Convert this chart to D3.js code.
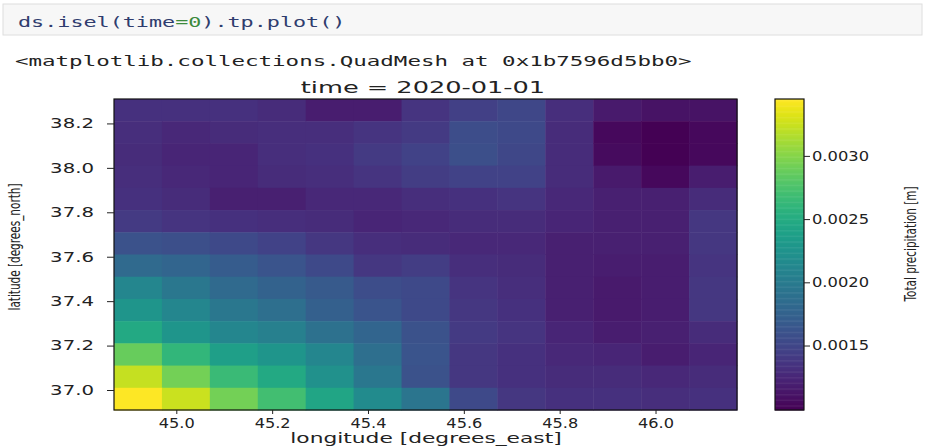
<!DOCTYPE html>
<html>
<head>
<meta charset="utf-8">
<script src="https://d3js.org/d3.v7.min.js"></script>
<style>
body{margin:0;background:#fff;}
svg{display:block;}
text{font-family:"DejaVu Sans",sans-serif;fill:#222;}
.mono{font-family:"DejaVu Sans Mono",monospace;}
</style>
</head>
<body>
<script>
// grid cell centres (degrees)
var lon = [44.92, 45.02, 45.12, 45.22, 45.32, 45.42, 45.52, 45.62, 45.72, 45.82, 45.92, 46.02, 46.12];
var lat = [38.26, 38.16, 38.06, 37.96, 37.86, 37.76, 37.66, 37.56, 37.46, 37.36, 37.26, 37.16, 37.06, 36.96];

// total precipitation [m], one row per latitude (north to south)
var tp = [
  [0.00133,0.00133,0.00133,0.00129,0.00119,0.00119,0.00136,0.00146,0.00151,0.00131,0.00116,0.00111,0.00111],
  [0.00131,0.00126,0.00129,0.00131,0.00131,0.00136,0.00141,0.00156,0.00153,0.00129,0.00104,0.00099,0.00104],
  [0.00129,0.00124,0.00124,0.00131,0.00133,0.00141,0.00148,0.00158,0.00151,0.00129,0.00106,0.00099,0.00104],
  [0.00131,0.00126,0.00124,0.00129,0.00131,0.00136,0.00143,0.00148,0.00148,0.00129,0.00116,0.00104,0.00119],
  [0.00133,0.00129,0.00121,0.00121,0.00126,0.00126,0.00131,0.00133,0.00136,0.00126,0.00121,0.00121,0.00129],
  [0.00141,0.00136,0.00133,0.00131,0.00129,0.00124,0.00126,0.00129,0.00129,0.00124,0.00121,0.00121,0.00138],
  [0.00161,0.00158,0.00153,0.00148,0.00138,0.00131,0.00129,0.00126,0.00126,0.00121,0.00121,0.00121,0.00138],
  [0.00183,0.00178,0.00170,0.00163,0.00153,0.00138,0.00143,0.00131,0.00129,0.00121,0.00119,0.00119,0.00136],
  [0.00212,0.00197,0.00183,0.00175,0.00168,0.00156,0.00153,0.00136,0.00131,0.00121,0.00116,0.00119,0.00138],
  [0.00227,0.00212,0.00197,0.00188,0.00173,0.00163,0.00153,0.00138,0.00133,0.00121,0.00116,0.00119,0.00138],
  [0.00247,0.00227,0.00212,0.00205,0.00190,0.00178,0.00161,0.00141,0.00136,0.00124,0.00119,0.00121,0.00129],
  [0.00288,0.00261,0.00237,0.00227,0.00212,0.00188,0.00163,0.00138,0.00133,0.00126,0.00124,0.00119,0.00124],
  [0.00323,0.00293,0.00266,0.00247,0.00222,0.00197,0.00161,0.00138,0.00133,0.00129,0.00129,0.00126,0.00129],
  [0.00345,0.00325,0.00293,0.00271,0.00244,0.00217,0.00195,0.00153,0.00138,0.00133,0.00133,0.00131,0.00133]
];

var xTicks = [45.0, 45.2, 45.4, 45.6, 45.8, 46.0];
var yTicks = [37.0, 37.2, 37.4, 37.6, 37.8, 38.0, 38.2];
var cbTicks = [0.0015, 0.0020, 0.0025, 0.0030];

var width = 925, height = 446;
var svg = d3.select("body").append("svg").attr("width", width).attr("height", height);

// the screenshot is stretched sideways, so text gets widened too
function stretch(sel, k) {
  sel.each(function() {
    var w = this.getComputedTextLength();
    d3.select(this).attr("textLength", w * k).attr("lengthAdjust", "spacingAndGlyphs");
  });
}

// notebook cell
svg.append("rect").attr("x", 3).attr("y", 4).attr("width", 919).attr("height", 31)
  .attr("fill", "#f7f7f7").attr("stroke", "#dedede");
var code = svg.append("text").attr("class", "mono").attr("x", 18).attr("y", 27).style("font-size", "14.5px");
[["ds.isel(time", "#2f3c6e"], ["=", "#3c8a3c"], ["0", "#3c8a3c"], [").tp.plot()", "#2f3c6e"]].forEach(function(p) {
  code.append("tspan").text(p[0]).style("fill", p[1]);
});
stretch(code, 1.5);

var out = svg.append("text").attr("class", "mono").attr("x", 15).attr("y", 66).style("font-size", "14.5px")
  .text("<matplotlib.collections.QuadMesh at 0x1b7596d5bb0>");
stretch(out, 1.55);

// scales
var x = d3.scaleLinear().domain([44.87, 46.17]).range([114, 737]);
var y = d3.scaleLinear().domain([36.91, 38.31]).range([410, 99]);
var vmin = d3.min(tp, function(r) { return d3.min(r); });
var vmax = d3.max(tp, function(r) { return d3.max(r); });
var color = d3.scaleSequential(d3.interpolateViridis).domain([vmin, vmax]);

// mesh
var cells = [];
lat.forEach(function(la, j) {
  lon.forEach(function(lo, i) { cells.push({lon: lo, lat: la, v: tp[j][i]}); });
});
svg.append("g").selectAll("rect")
  .data(cells)
  .enter()
  .append("rect")
  .attr("x", function(d) { return x(d.lon - 0.05); })
  .attr("y", function(d) { return y(d.lat + 0.05); })
  .attr("width", function(d) { return x(d.lon + 0.05) - x(d.lon - 0.05) + 0.5; })
  .attr("height", function(d) { return y(d.lat - 0.05) - y(d.lat + 0.05) + 0.5; })
  .attr("fill", function(d) { return color(d.v); });

svg.append("rect").attr("x", 114).attr("y", 99).attr("width", 623).attr("height", 311)
  .attr("fill", "none").attr("stroke", "#111").attr("stroke-width", 1.2);

// axes
var gx = svg.append("g").attr("transform", "translate(0,410)")
  .call(d3.axisBottom(x).tickValues(xTicks).tickFormat(d3.format(".1f")).tickSize(4).tickPadding(4));
var gy = svg.append("g").attr("transform", "translate(114,0)")
  .call(d3.axisLeft(y).tickValues(yTicks).tickFormat(d3.format(".1f")).tickSize(7).tickPadding(13));
[gx, gy].forEach(function(g) {
  g.select(".domain").remove();
  g.selectAll("line").attr("stroke", "#222");
  g.selectAll("text").style("font-size", "13.7px").attr("fill", "#222");
});
stretch(gx.selectAll("text"), 1.18);
stretch(gy.selectAll("text"), 1.44);

// title and labels
var title = svg.append("text").attr("x", 423).attr("y", 93).attr("text-anchor", "middle")
  .style("font-size", "16px").text("time = 2020-01-01");
stretch(title, 1.6);

var xl = svg.append("text").attr("x", 426).attr("y", 443).attr("text-anchor", "middle")
  .style("font-size", "14.5px").text("longitude [degrees_east]");
stretch(xl, 1.5);

svg.append("text").attr("transform", "translate(20,247) scale(1.2,1) rotate(-90)").attr("text-anchor", "middle")
  .style("font-size", "13px").attr("textLength", 127).attr("lengthAdjust", "spacingAndGlyphs")
  .text("latitude [degrees_north]");

// colorbar
var cb = d3.scaleLinear().domain([vmin, vmax]).range([410, 99]);
var steps = d3.range(0, 256).map(function(k) { return vmin + (vmax - vmin) * k / 256; });
var dv = (vmax - vmin) / 256;
svg.append("g").selectAll("rect")
  .data(steps)
  .enter()
  .append("rect")
  .attr("x", 775)
  .attr("width", 29)
  .attr("y", function(d) { return cb(d + dv); })
  .attr("height", function(d) { return cb(d) - cb(d + dv) + 0.5; })
  .attr("fill", function(d) { return color(d + dv / 2); });
svg.append("rect").attr("x", 775).attr("y", 99).attr("width", 29).attr("height", 311)
  .attr("fill", "none").attr("stroke", "#111").attr("stroke-width", 1.2);

var gc = svg.append("g").attr("transform", "translate(804,0)")
  .call(d3.axisRight(cb).tickValues(cbTicks).tickFormat(d3.format(".4f")).tickSize(6).tickPadding(2));
gc.select(".domain").remove();
gc.selectAll("line").attr("stroke", "#222");
gc.selectAll("text").style("font-size", "13.7px").attr("fill", "#222");
stretch(gc.selectAll("text"), 1.19);

svg.append("text").attr("transform", "translate(916,244) scale(1.2,1) rotate(-90)").attr("text-anchor", "middle")
  .style("font-size", "13px").attr("textLength", 115).attr("lengthAdjust", "spacingAndGlyphs")
  .text("Total precipitation [m]");
</script>
</body>
</html>
